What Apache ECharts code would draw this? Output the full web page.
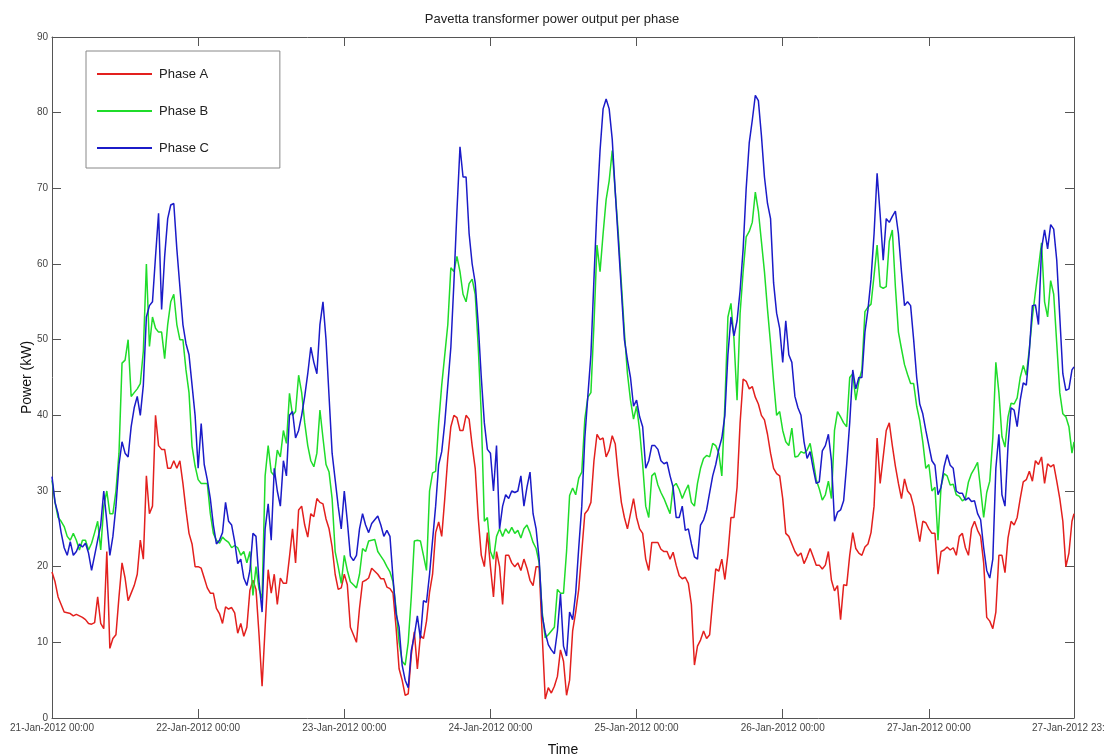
<!DOCTYPE html>
<html lang="en">
<head>
<meta charset="UTF-8">
<title>Pavetta transformer power output per phase</title>
<script src="https://cdnjs.cloudflare.com/ajax/libs/echarts/6.0.0/echarts.min.js"></script>
<style>
  html, body { margin: 0; padding: 0; background: #fff; }
  #main { width: 1104px; height: 756px; }
</style>
</head>
<body>
<div id="main"></div>
<script>
// hours after 21-Jan-2012 00:00 (half-hourly samples, last one at 27-Jan 23:50)
const hours = [];
for (let i = 0; i < 336; i++) hours.push(i / 2);
hours.push(167 + 50 / 60);

const yTicks = [0, 90, 10]; // min, max, step

// one line per day (48 half-hour readings)
const phaseA = [
  19.3, 18, 16, 15, 14, 13.9, 13.8, 13.5, 13.7, 13.5, 13.3, 13, 12.5, 12.4, 12.6, 16, 12.5, 11.8, 22, 9.2, 10.5, 11, 16, 20.5, 18.5, 15.5, 16.5, 17.5, 19, 23.5, 21, 32, 27, 28, 40, 36, 35.5, 35.5, 33, 33, 34, 33, 34, 31, 27.5, 24.4, 23, 20,
  20, 19.8, 18.5, 17.2, 16.5, 16.5, 14.5, 13.8, 12.5, 14.7, 14.4, 14.6, 13.9, 11.2, 12.5, 10.8, 12, 16.9, 18.2, 17, 11, 4.2, 12, 19.6, 16.5, 19, 15, 18.5, 17.8, 17.8, 21.3, 25, 20.5, 27.5, 28, 25.5, 23.9, 27, 26.6, 29, 28.5, 28.3, 26.3, 25, 22.6, 19, 17, 17.2,
  19, 17.6, 12, 11, 10, 14.5, 18, 18.2, 18.5, 19.8, 19.4, 19, 18.4, 18.4, 17.3, 17.1, 16.5, 12, 6.5, 5, 3, 3.2, 8.3, 11.4, 6.5, 10.9, 10.5, 12.8, 16.6, 19, 24.5, 25.9, 24, 29, 34.4, 38.5, 40, 39.7, 38, 38, 40, 39.5, 36, 33, 26.4, 21.5, 20, 24.5,
  20, 16, 22, 20, 15, 21.5, 21.5, 20.5, 20, 20.5, 19.5, 21, 19.8, 18.2, 17.5, 20, 20, 11, 2.5, 4, 3.3, 4.2, 5.5, 9, 7.5, 3, 5, 11.5, 14, 17, 22, 27, 27.5, 28.5, 34, 37.5, 36.8, 37, 34.5, 35.4, 37.3, 36.2, 32, 28.5, 26.5, 25, 27, 29,
  26.5, 25, 24.4, 21, 19.5, 23.2, 23.2, 23.2, 22.3, 22, 22, 21, 21.9, 20.2, 18.8, 18.4, 18.6, 17.8, 15, 7, 9.5, 10.3, 11.5, 10.5, 11, 15.5, 19.7, 19.4, 21, 18.3, 21.7, 26.5, 26.5, 30.5, 39, 44.8, 44.5, 43.5, 43.8, 42.4, 41.5, 40, 39.4, 37.5, 35, 33, 32.3, 32,
  29, 24.4, 24, 23, 22, 21.4, 21.8, 20.4, 21.3, 22.4, 21.3, 20.2, 20.2, 19.7, 20.2, 22, 18.2, 16.8, 17.5, 13, 17.6, 17.5, 21.5, 24.5, 22.4, 21.8, 21.5, 22.6, 23, 24.5, 28, 37, 31, 34.5, 38, 39, 36, 33.3, 31, 29, 31.6, 30, 29.5, 28, 25.6, 23.3, 26, 25.8,
  25, 24.4, 24.4, 19, 22, 22.2, 22.6, 22.2, 22.5, 21.5, 24, 24.4, 22.5, 21.5, 25, 26, 24.8, 24, 20.5, 13.3, 12.8, 11.8, 14, 21.5, 21.5, 19.2, 23.8, 26, 25.5, 26.5, 29, 31.2, 31.5, 32.6, 31.3, 34, 33.5, 34.5, 31, 33.6, 33.2, 33.5, 31.3, 29, 26, 20, 21.8, 26, 27
];
const phaseB = [
  31.4, 28.5, 26.5, 26, 25.3, 24, 23.5, 24.4, 23.5, 22.2, 23.5, 23.5, 22.2, 23.1, 24.5, 26, 22.2, 28, 30, 27, 27, 30, 35, 46.9, 47.3, 50, 42.5, 43, 43.5, 44.2, 48.5, 60, 49.1, 53, 51.5, 51, 51, 47.5, 52, 55, 56, 52, 50, 50, 46, 43, 35.9, 33.3,
  31.5, 31, 31, 31, 27, 24.4, 23.5, 23.1, 23.9, 23.5, 23.2, 22.5, 22.8, 22.5, 21.5, 22, 20.5, 22, 16.2, 20, 17, 15.8, 32, 36, 32.5, 32, 35.4, 34.5, 38, 36.3, 42.9, 40, 40.5, 45.3, 43, 39, 36, 34, 33.2, 35, 40.7, 37, 33.5, 32.5, 29, 22, 20, 17.8,
  21.5, 19.5, 18, 17.6, 17.2, 19, 22.4, 22, 23.4, 23.5, 23.6, 22, 21.4, 20.8, 20, 19.3, 18, 14.5, 10, 7.5, 7, 10, 16, 23.4, 23.5, 23.4, 21.5, 19.5, 30, 32.4, 32.6, 39, 44, 48, 52, 59.5, 59, 61, 59, 56, 55, 57.4, 58, 56, 49, 40, 26, 26.5,
  22, 21, 24, 25, 24, 25, 24.4, 25.2, 24.4, 24.8, 23.8, 25, 25.5, 24.5, 23.2, 22.4, 20.5, 14, 10.6, 11, 11.5, 12, 17, 16.5, 16.5, 22, 29.4, 30.4, 29.5, 31.7, 32.5, 39.5, 42.4, 43, 52, 62.5, 59, 64, 68.5, 71, 75, 69.5, 64, 57.5, 51, 45.5, 42, 39.5,
  41.2, 38, 33.5, 28, 26.5, 32, 32.4, 30.8, 29.8, 29, 28, 27, 30.6, 31, 30.2, 29, 30, 30.8, 28.5, 28, 31, 33, 34.3, 34.7, 34.5, 36.3, 36, 35, 32, 41.5, 53, 54.8, 50, 42, 53.5, 59, 63.6, 64.3, 65.5, 69.5, 67, 63, 59, 54, 49.5, 44.5, 40, 40.5,
  38, 36.5, 36, 38.3, 34.5, 34.6, 35.2, 35, 35.4, 36.3, 34, 31.5, 30.3, 28.8, 29.5, 31.3, 29, 38, 40.5, 39.8, 39, 38.5, 45, 45.5, 42, 44.5, 46, 53.7, 54.3, 54.7, 58.5, 62.5, 57, 56.8, 57, 63, 64.5, 57, 51, 48.8, 46.7, 45.4, 44.2, 44.2, 41.2, 39.3, 36.5, 33,
  33.5, 30, 30.5, 23.5, 30.6, 32.3, 32, 30.8, 30.9, 29.5, 29.3, 28.7, 29, 31.2, 32.3, 33, 33.8, 30.2, 26.5, 29.8, 31.3, 37, 47, 43, 37.2, 35.8, 39.8, 41.6, 41.5, 42.3, 45, 46.6, 45.3, 48.8, 53, 56.3, 59.5, 62.8, 55, 53, 57.8, 56, 49.5, 43, 40.2, 39.8, 38.5, 35, 36.5
];
const phaseC = [
  31.9, 28.5, 27, 24.5, 22.5, 21.5, 23.3, 21.5, 22, 23, 22.6, 23.1, 21.8, 19.5, 21.5, 23.5, 25.5, 30, 26, 21.5, 24, 28, 33.5, 36.5, 35, 34.5, 38.5, 41, 42.5, 40, 44, 53, 54.5, 55, 61, 66.7, 54, 61, 66, 67.8, 68, 62, 57, 52, 49.5, 48, 44, 40,
  33, 38.9, 33.5, 31.5, 29, 25.5, 23, 23.5, 24.5, 28.5, 26, 25.5, 23.3, 20.4, 21, 18.5, 17.5, 19.5, 24.4, 24, 18, 14, 25, 28.3, 23.5, 33, 30, 28, 34, 32, 40, 40.5, 37, 38, 40, 42.5, 45.5, 49, 47, 45.5, 52, 55, 50, 42.5, 35, 31.5, 28, 25,
  30, 26, 21.4, 20.8, 21.5, 25, 27, 25.5, 24.5, 25.7, 26.2, 26.7, 25.5, 24, 24.8, 24, 18.5, 13.8, 12, 7, 5, 4, 8.9, 10.9, 13.5, 10.5, 15.5, 15.3, 19, 23.5, 28, 33.5, 35.2, 39, 44, 49, 57.5, 67, 75.5, 71.5, 71.5, 64, 60, 57.5, 52, 45, 39, 35.5,
  35, 30, 36, 25, 28, 29.5, 29, 30, 29.8, 30, 32, 28, 30.5, 32.5, 27, 25, 21, 13.5, 11.3, 9.7, 9, 8.5, 11.5, 16.4, 9.5, 8.2, 14, 13, 16.5, 22.5, 28, 37, 42.6, 48, 58, 67.5, 75, 80.5, 81.8, 80.5, 76.5, 69.5, 63, 56.5, 50, 47.3, 45, 41.2,
  42, 39.8, 38.5, 33, 34, 36, 36, 35.5, 34, 33.6, 33.8, 32, 30.5, 26.5, 26.5, 28, 24.8, 25, 23, 21.3, 21, 25.5, 26.2, 27.5, 29.8, 32, 33.5, 35.5, 37, 40, 48, 53, 50.5, 52.5, 56.5, 62, 70, 76, 79, 82.3, 81.6, 77, 71.5, 68, 66, 57.5, 53.5, 51.5,
  47, 52.5, 48, 47, 42.5, 41, 40, 36.5, 34.3, 35.2, 33, 31, 31.2, 35.3, 36, 37.5, 34, 26, 27.2, 27.5, 28.7, 33.5, 39, 46, 43.5, 45, 45, 51, 54, 58, 64, 72, 66.5, 60.5, 66, 65.5, 66.3, 67, 64, 59, 54.5, 55, 54.5, 50, 45, 41.5, 40.2, 38,
  36, 34, 33.4, 29.5, 30.5, 33.2, 34.8, 33.4, 33, 30, 29.7, 29.7, 28.8, 29.1, 28.6, 28.7, 27, 26.2, 22.5, 19.5, 18.5, 21, 33, 37.5, 29.5, 28, 36, 41, 40.7, 38.5, 42, 44.3, 44, 48.5, 54.5, 54.6, 52, 62, 64.5, 62, 65.2, 64.6, 60.5, 53, 45.5, 43.3, 43.5, 46, 46.4
];

const seriesNames = ['Phase A', 'Phase B', 'Phase C'];
const seriesColors = ['#e3201e', '#1fdc2a', '#1b1bc8'];

function pad(n) { return (n < 10 ? '0' : '') + n; }
function dateLabel(v) {
  const day = Math.floor(v / 24 + 1e-9);
  const mins = Math.round((v - day * 24) * 60);
  return (21 + day) + '-Jan-2012 ' + pad(Math.floor(mins / 60)) + ':' + pad(mins % 60);
}

const font = "'Liberation Sans', Arial, sans-serif";
const axisColor = '#555';
const xMax = hours[hours.length - 1];

const myChart = echarts.init(document.getElementById('main'));

function frameX(pos, labels) {
  return {
    type: 'value', position: pos, min: 0, max: xMax, interval: 24,
    name: labels ? 'Time' : '', nameLocation: 'middle', nameGap: 25, nameMoveOverlap: false,
    nameTextStyle: { fontFamily: font, fontSize: 14, color: '#111' },
    axisLine: { show: true, onZero: false, lineStyle: { color: axisColor } },
    axisTick: { show: true, inside: true, length: 9, lineStyle: { color: axisColor } },
    axisLabel: {
      show: labels, margin: 5, fontFamily: font, fontSize: 10, color: '#444',
      showMinLabel: true, showMaxLabel: true, hideOverlap: false, formatter: dateLabel
    },
    splitLine: { show: false }
  };
}
function frameY(pos, labels) {
  return {
    type: 'value', position: pos, min: yTicks[0], max: yTicks[1], interval: yTicks[2],
    name: labels ? 'Power (kW)' : '', nameLocation: 'middle', nameGap: 18, nameMoveOverlap: false,
    nameTextStyle: { fontFamily: font, fontSize: 14, color: '#111' },
    axisLine: { show: true, onZero: false, lineStyle: { color: axisColor } },
    axisTick: { show: true, inside: true, length: 9, lineStyle: { color: axisColor } },
    axisLabel: { show: labels, margin: 4, fontFamily: font, fontSize: 10, color: '#444' },
    splitLine: { show: false }
  };
}

const allData = [phaseA, phaseB, phaseC];

const option = {
  animation: false,
  backgroundColor: '#fff',
  title: {
    text: 'Pavetta transformer power output per phase',
    left: 'center', top: 8,
    textStyle: { fontFamily: font, fontSize: 13, fontWeight: 'normal', color: '#222' }
  },
  legend: {
    data: seriesNames,
    orient: 'vertical',
    left: 86, top: 51,
    padding: [16, 71, 13, 11],
    icon: 'rect',
    itemWidth: 55, itemHeight: 2, itemGap: 23,
    backgroundColor: '#fff',
    borderColor: '#888', borderWidth: 1,
    textStyle: { fontFamily: font, fontSize: 13, lineHeight: 14, color: '#222', padding: [0, 0, 0, 2] }
  },
  grid: { left: 52, right: 30, top: 37, bottom: 38, containLabel: false, outerBoundsMode: 'none' },
  xAxis: [frameX('bottom', true), frameX('top', false)],
  yAxis: [frameY('left', true), frameY('right', false)],
  series: seriesNames.map((name, i) => ({
    name: name,
    type: 'line',
    symbol: 'none',
    color: seriesColors[i],
    lineStyle: { width: 1.5, color: seriesColors[i] },
    data: hours.map((h, j) => [h, allData[i][j]])
  }))
};

myChart.setOption(option);
</script>
</body>
</html>
